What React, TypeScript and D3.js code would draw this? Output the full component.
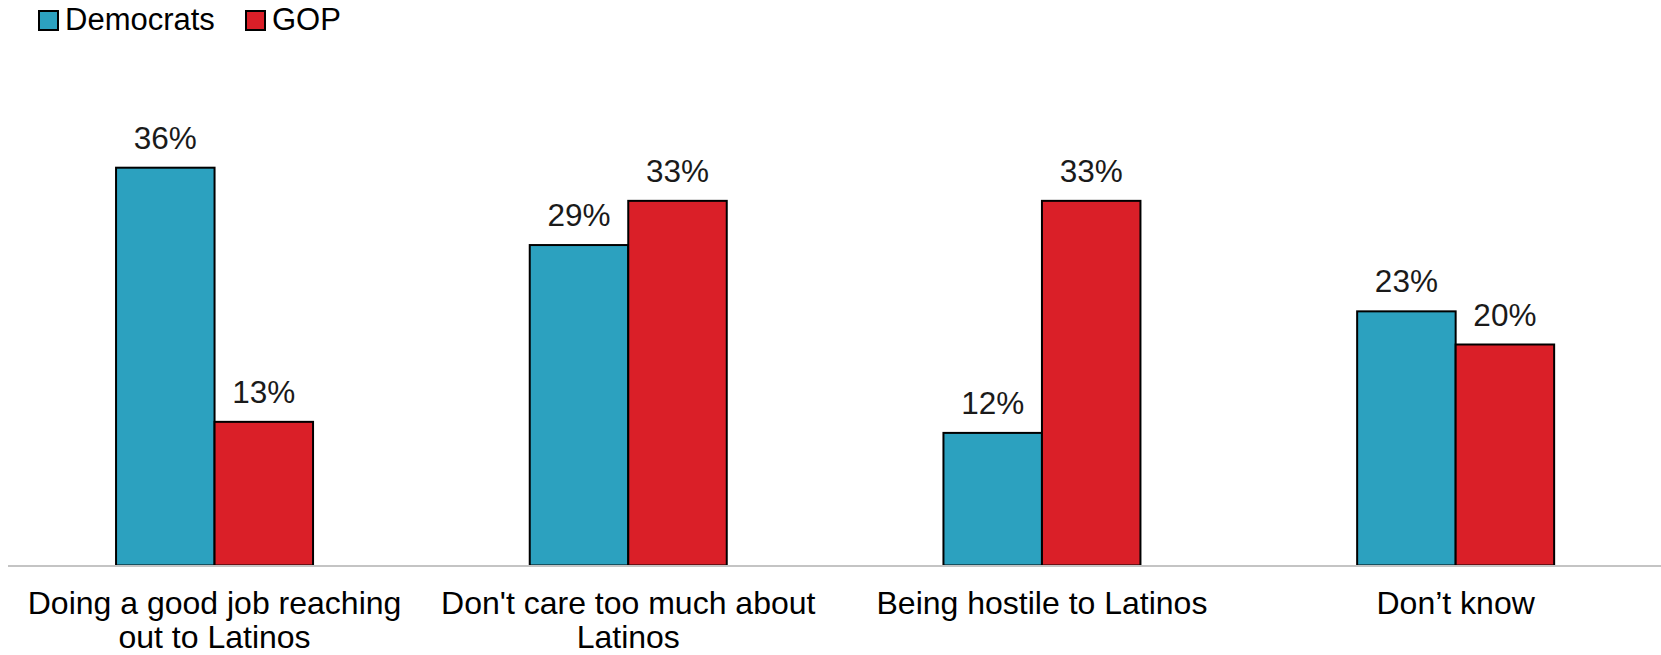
import React from "react";
import * as d3 from "d3";

const categories = [
  ["Doing a good job reaching", "out to Latinos"],
  ["Don't care too much about", "Latinos"],
  ["Being hostile to Latinos"],
  ["Don\u2019t know"],
];
const seriesNames = ["Democrats", "GOP"];
const democrats = [36, 29, 12, 23];
const gop = [13, 33, 33, 20];
const seriesColors = ["#2CA1BF", "#DA1F28"];

const W = 1661;
const H = 655;
const FONT = "'Liberation Sans', Arial, sans-serif";

export default function App() {
  const keys = categories.map((c) => c.join(" "));
  const x0 = d3.scaleBand<string>().domain(keys).range([7.7, 1662.5]).padding(0);
  const x1 = d3
    .scaleBand<string>()
    .domain(seriesNames)
    .range([0, x0.bandwidth()])
    .paddingInner(0)
    .paddingOuter(1.1);
  const y = d3.scaleLinear().domain([0, 40]).range([565.5, 565.5 - 11.05 * 40]);
  const values = [democrats, gop];

  return (
    <svg
      width={W}
      height={H}
      style={{ position: "absolute", left: 0, top: 0, background: "#fff" }}
      fontFamily={FONT}
    >
      {/* legend */}
      {seriesNames.map((s, i) => {
        const lx = i === 0 ? 39 : 246;
        return (
          <g key={s}>
            <rect x={lx} y={11} width={19} height={19} fill={seriesColors[i]} stroke="#000" strokeWidth={2} />
            <text x={lx + 26} y={30} fontSize={31} fill="#000">
              {s}
            </text>
          </g>
        );
      })}
      {/* bars */}
      {keys.map((k, ci) => (
        <g key={k} transform={`translate(${x0(k)},0)`}>
          {seriesNames.map((s, si) => {
            const v = values[si][ci];
            const bx = x1(s)!;
            return (
              <g key={s}>
                <rect
                  x={bx}
                  y={y(v)}
                  width={x1.bandwidth()}
                  height={y(0) - y(v)}
                  fill={seriesColors[si]}
                  stroke="#000"
                  strokeWidth={2}
                />
                <text
                  x={bx + x1.bandwidth() / 2}
                  y={y(v) - 19}
                  textAnchor="middle"
                  fontSize={31.5}
                  fill="#1a1a1a"
                >
                  {v}%
                </text>
              </g>
            );
          })}
        </g>
      ))}
      {/* axis */}
      <line x1={8} x2={W} y1={566} y2={566} stroke="#c4c4c4" strokeWidth={2} />
      {/* category labels */}
      {categories.map((lines, ci) => {
        const cx = x0(keys[ci])! + x0.bandwidth() / 2;
        return (
          <text key={ci} textAnchor="middle" fontSize={32} fill="#000">
            {lines.map((l, li) => (
              <tspan key={li} x={cx} y={614 + li * 34}>
                {l}
              </tspan>
            ))}
          </text>
        );
      })}
    </svg>
  );
}
